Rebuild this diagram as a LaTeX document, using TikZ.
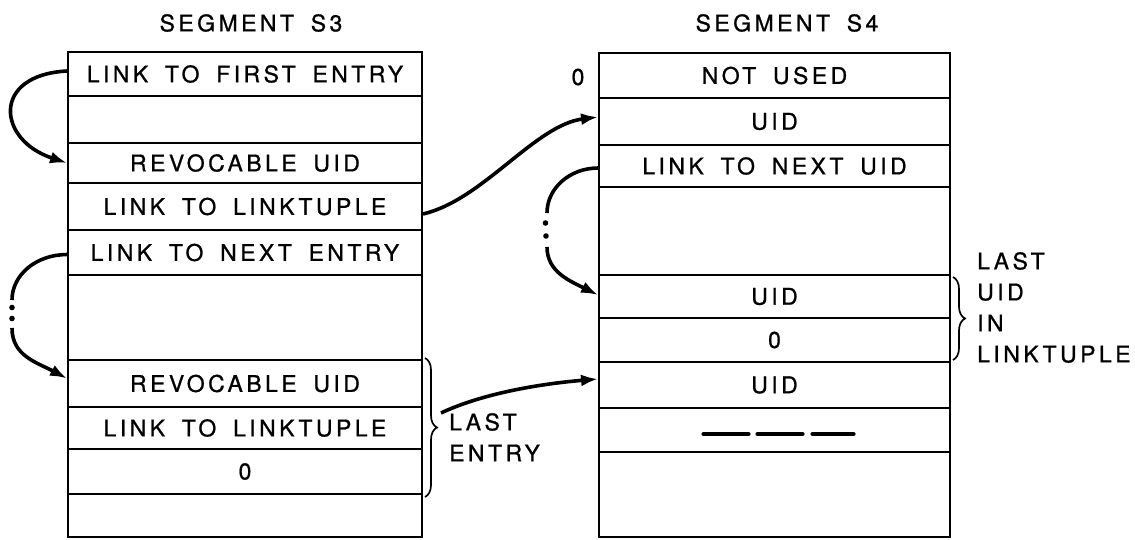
\documentclass[tikz,border=0pt]{standalone}
\usepackage{fontspec}
\setmainfont[LetterSpace=15, WordSpace=1.7, FakeBold=0.9]{TeX Gyre Heros}
\usetikzlibrary{arrows.meta,decorations.pathreplacing}
\begin{document}
\begin{tikzpicture}[x=1pt,y=-1pt,
  every node/.style={font=\fontsize{23}{27}\selectfont, inner sep=0pt},
  lcell/.style={draw, line width=1.9pt, minimum width=354pt},
  rcell/.style={draw, line width=1.9pt, minimum width=351pt},
  conn/.style={line width=3.6pt, -{Latex[length=17pt,width=12pt]}},
  connplain/.style={line width=3.6pt},
  bracestyle/.style={line width=1.7pt, decorate, decoration={brace, amplitude=12pt}},
  sidelabel/.style={anchor=north west, align=left, font=\fontsize{23}{31}\selectfont},
  dashbar/.style={line width=4.2pt, line cap=round}]
\useasboundingbox (0,0) rectangle (1135,539);

% titles
\node (t3) at (251,23) {SEGMENT S3};
\node (t4) at (787,23) {SEGMENT S4};

% segment S3
\node[lcell, minimum height=44pt] (L1) at (245,74) {LINK TO FIRST ENTRY};
\node[lcell, minimum height=47pt] (L2) at (245,119.5) {};
\node[lcell, minimum height=40pt] (L3) at (245,163) {REVOCABLE UID};
\node[lcell, minimum height=47pt] (L4) at (245,206.5) {LINK TO LINKTUPLE};
\node[lcell, minimum height=45pt] (L5) at (245,252.5) {LINK TO NEXT ENTRY};
\node[lcell, minimum height=85pt] (L6) at (245,317.5) {};
\node[lcell, minimum height=47pt] (L7) at (245,383.5) {REVOCABLE UID};
\node[lcell, minimum height=42pt] (L8) at (245,428) {LINK TO LINKTUPLE};
\node[lcell, minimum height=45pt] (L9) at (245,471.5) {0};
\node[lcell, minimum height=43pt] (L10) at (245,515.5) {};

% segment S4
\node[rcell, minimum height=45pt] (R1) at (774.5,75.5) {NOT USED};
\node[rcell, minimum height=47pt] (R2) at (774.5,121.5) {UID};
\node[rcell, minimum height=42pt] (R3) at (774.5,166) {LINK TO NEXT UID};
\node[rcell, minimum height=88pt] (R4) at (774.5,231) {};
\node[rcell, minimum height=43pt] (R5) at (774.5,296.5) {UID};
\node[rcell, minimum height=44pt] (R6) at (774.5,340) {0};
\node[rcell, minimum height=46pt] (R7) at (774.5,385) {UID};
\node[rcell, minimum height=44pt] (R8) at (774.5,430) {};
\node[rcell, minimum height=85pt] (R9) at (774.5,494.5) {};

\node (z0) at (578,77) {0};

% dashes in R8
\draw[dashbar] ([xshift=-71pt,yshift=-4pt]R8.center) -- ([xshift=-26pt,yshift=-4pt]R8.center);
\draw[dashbar] ([xshift=-17pt,yshift=-4pt]R8.center) -- ([xshift=28pt,yshift=-4pt]R8.center);
\draw[dashbar] ([xshift=38pt,yshift=-4pt]R8.center) -- ([xshift=79pt,yshift=-4pt]R8.center);

% braces and labels
\draw[bracestyle] (425,358) -- (425,497);
\node[sidelabel] (le) at (449,413) {LAST\\ENTRY};
\draw[bracestyle] (953,277) -- (953,360);
\node[sidelabel] (lu) at (977,252) {LAST\\UID\\IN\\LINKTUPLE};

% arrow: first entry -> revocable uid
\draw[conn] ([yshift=3pt]L1.west) .. controls +(-76,4) and +(-70,-23) .. (L3.west);

% arrow: link to linktuple -> UID
\draw[conn] ([yshift=-7.5pt]L4.east) .. controls +(60,-14) and +(-63,8) .. ([yshift=4.5pt]R2.west);

% dotted loop: next entry
\coordinate (a1) at (12,300);
\coordinate (a2) at (12,328);
\draw[connplain] ([yshift=-2pt]L5.west) .. controls +(-31,0) and +(0,-25) .. (a1);
\fill (12,307.5) circle[radius=2.8pt];
\fill (12,318.5) circle[radius=2.8pt];
\draw[conn] (a2) .. controls +(0,28) and +(-30,-16) .. ([yshift=5pt]L7.west);

% dotted loop: next uid
\coordinate (b1) at (547,213);
\coordinate (b2) at (547,247);
\draw[connplain] ([yshift=-2pt]R3.west) .. controls +(-28,0) and +(0,-25) .. (b1);
\fill (545.5,223) circle[radius=2.8pt];
\fill (546,236) circle[radius=2.8pt];
\draw[conn] (b2) .. controls +(0,25) and +(-28,-14) .. ([yshift=1.5pt]R5.west);

% arrow: last entry -> UID
\coordinate (bt) at (441,413);
\draw[conn] (bt) .. controls +(40,-19) and +(-60,5) .. ([yshift=6pt]R7.west);
\end{tikzpicture}
\end{document}
